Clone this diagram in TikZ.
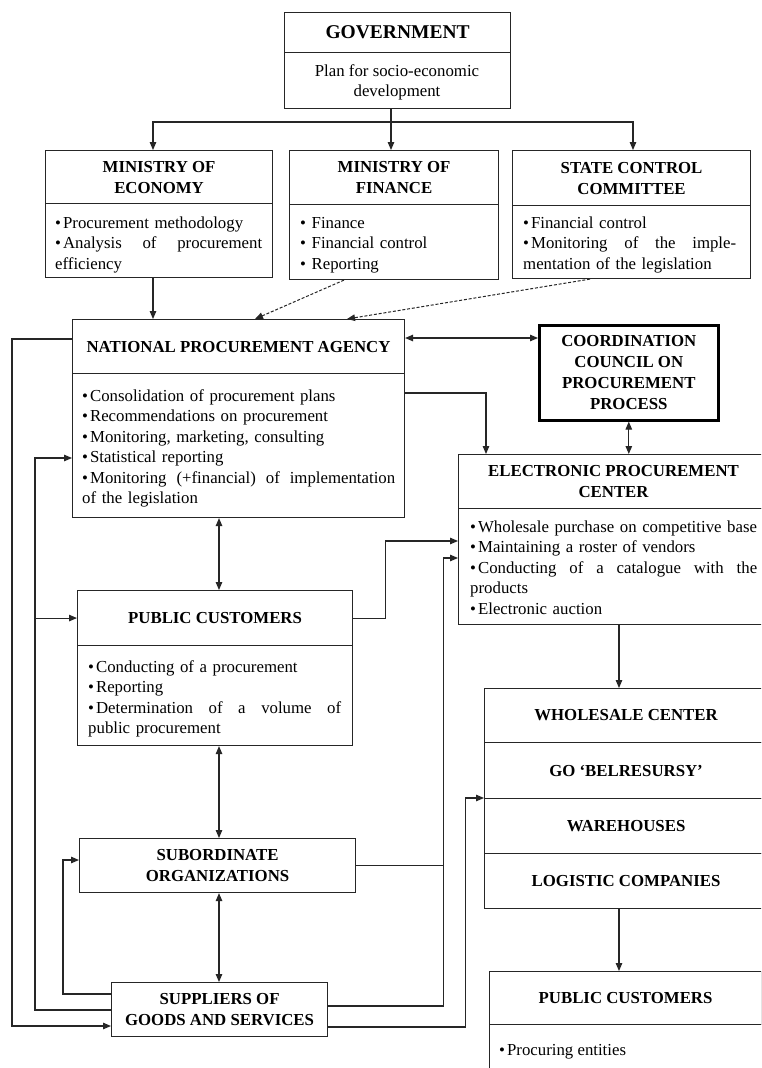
\documentclass[tikz,border=0pt]{standalone}
\usepackage{fontspec}
\setmainfont{Liberation Serif}
\usetikzlibrary{arrows.meta,calc}
\newcommand\mybox[6]{\node[box, minimum width=#4pt, minimum height=#5pt] (#1) at (#2,#3) {#6};}
\newcommand\bul{\textbullet\hspace{2pt}}
\begin{document}
\begin{tikzpicture}[x=1pt,y=-1pt,
  ln/.style={draw=black!85, line width=1.1pt},
  box/.style={ln, rectangle, inner sep=0pt, anchor=north west, align=center, font=\bfseries\fontsize{16.8}{21}\selectfont},
  bd/.style={inner sep=0pt, anchor=north west, align=left, font=\fontsize{16.8}{20.5}\selectfont},
  arr/.style={ln, -{Triangle[length=8pt,width=6.5pt]}},
  barr/.style={ln, {Triangle[length=8pt,width=6.5pt]}-{Triangle[length=8pt,width=6.5pt]}},
  dsh/.style={arr, dash pattern=on 3pt off 1.8pt, line width=1pt}]
\useasboundingbox (0,0) rectangle (761,1068);
\clip (0,0) rectangle (761,1068);
\fill[white] (0,0) rectangle (761,1068);

% Government
\mybox{govH}{284}{12}{226}{40}{\fontsize{19.5}{23}\selectfont GOVERNMENT}
\mybox{govB}{284}{52}{226}{56}{}
\node[bd, anchor=north, align=center] (govT) at (397,61.7) {\strut Plan for socio-economic\\development};

% Ministries
\mybox{econH}{45}{150}{227}{53}{MINISTRY OF\\ECONOMY}
\mybox{econB}{45}{203}{227}{74}{}
\node[bd, text width=207pt] (econT) at (55,213.6) {\strut\bul Procurement methodology\\\bul Analysis\hfill of\hfill procurement\\efficiency};

\mybox{finH}{289}{150}{209}{54}{MINISTRY OF\\FINANCE}
\mybox{finB}{289}{204}{209}{75}{}
\node[bd, text width=190pt] (finT) at (300,213.6) {\strut\textbullet\ Finance\\\textbullet\ Financial control\\\textbullet\ Reporting};

\mybox{stH}{512}{150}{238}{55}{STATE CONTROL\\COMMITTEE}
\mybox{stB}{512}{205}{238}{73}{}
\node[bd, text width=213pt] (stT) at (523,213.6) {\strut\bul Financial control\\\bul Monitoring\hfill of\hfill the\hfill imple-\\mentation of the legislation};

% National procurement agency
\mybox{npaH}{72}{319}{332}{54}{NATIONAL PROCUREMENT AGENCY}
\mybox{npaB}{72}{373}{332}{144}{}
\node[bd, text width=313pt] (npaT) at (82,386.7) {\strut\bul Consolidation of procurement plans\\\bul Recommendations on procurement\\\bul Monitoring, marketing, consulting\\\bul Statistical reporting\\\bul Monitoring\hfill (+financial)\hfill of\hfill implementation\\of the legislation};

% Coordination council
\node[box, draw=black, line width=2.6pt, minimum width=179pt, minimum height=95pt] (cc) at (538,324) {COORDINATION\\COUNCIL ON\\PROCUREMENT\\PROCESS};

% Electronic procurement center
\mybox{epcH}{458}{454}{310}{54}{ELECTRONIC PROCUREMENT\\CENTER}
\mybox{epcB}{458}{508}{310}{116}{}
\node[bd, text width=287pt] (epcT) at (470,517.7) {\strut\bul Wholesale purchase on competitive base\\\bul Maintaining a roster of vendors\\\bul Conducting\hfill of\hfill a\hfill catalogue\hfill with\hfill the\\products\\\bul Electronic auction};

% Public customers
\mybox{pcH}{77}{590}{275}{55}{PUBLIC CUSTOMERS}
\mybox{pcB}{77}{645}{275}{100}{}
\node[bd, text width=253pt] (pcT) at (88,657.7) {\strut\bul Conducting of a procurement\\\bul Reporting\\\bul Determination\hfill of\hfill a\hfill volume\hfill of\\public procurement};

% Subordinate, suppliers
\mybox{sub}{79}{838}{276}{54}{SUBORDINATE\\ORGANIZATIONS}
\mybox{sup}{111}{982}{216}{54}{SUPPLIERS OF\\GOODS AND SERVICES}

% Wholesale group
\mybox{wc}{484}{688}{283}{54}{WHOLESALE CENTER}
\mybox{go}{484}{742}{283}{56}{GO ‘BELRESURSY’}
\mybox{wh}{484}{798}{283}{55}{WAREHOUSES}
\mybox{lc}{484}{853}{283}{55}{LOGISTIC COMPANIES}

% Public customers 2
\mybox{pcxH}{489}{971}{272}{53}{PUBLIC CUSTOMERS}
\mybox{pcxB}{489}{1024}{280}{60}{}
\node[bd] (pcxT) at (499,1040.7) {\strut\bul Procuring entities};

% ---- connectors ----
\coordinate (j) at (391,122);
\coordinate (jl) at (153,122);
\coordinate (jr) at (633,122);
\draw[arr] (govB.south -| j) -- (finH.north -| j);
\draw[barr] (econH.north -| jl) |- (jr) -- (stH.north -| jr);
\draw[arr] (econB.south -| jl) -- (npaH.north -| jl);
\draw[dsh] ($(finB.south west)+(55,0)$) -- ($(npaH.north west)+(183,0)$);
\draw[dsh] ($(stB.south west)+(78,0)$) -- ($(npaH.north west)+(275,0)$);

\coordinate (y1) at (0,338);
\draw[barr] (npaH.east |- y1) -- (cc.west |- y1);
\draw[barr] (cc.south) -- (cc.south |- epcH.north);
\draw[arr] ($(npaB.north east)+(0,20)$) -| ($(epcH.north west)+(28,0)$);

\coordinate (xv) at (219,0);
\draw[barr] (npaB.south -| xv) -- (pcH.north -| xv);
\draw[barr] (pcB.south -| xv) -- (sub.north -| xv);
\draw[barr] (sub.south -| xv) -- (sup.north -| xv);

\draw[arr] (pcH.east) -- ++(32,0) |- ($(epcB.north west)+(0,33)$);
\draw[arr] ($(sup.north east)+(0,24)$) -- ++(115,0) |- ($(epcB.north west)+(0,50)$);
\draw[ln] (sub.east) -- ++(87,0);
\draw[arr] ($(sup.north east)+(0,45)$) -- ++(137,0) |- (wh.north west);

\draw[arr] ($(npaH.north west)+(0,20)$) -- ++(-60,0) |- ($(sup.north west)+(0,44)$);
\draw[arr] ($(sup.north west)+(0,28)$) -- ++(-76,0) |- ($(npaB.north west)+(0,85)$);
\coordinate (xl) at (35,0);
\draw[arr] (pcH.west -| xl) -- (pcH.west);
\draw[arr] ($(sup.north west)+(0,12)$) -- ++(-48,0) |- ($(sub.north west)+(0,22)$);

\coordinate (xe) at (619,0);
\draw[arr] (epcB.south -| xe) -- (wc.north -| xe);
\draw[arr] (lc.south -| xe) -- (pcxH.north -| xe);
\end{tikzpicture}
\end{document}
